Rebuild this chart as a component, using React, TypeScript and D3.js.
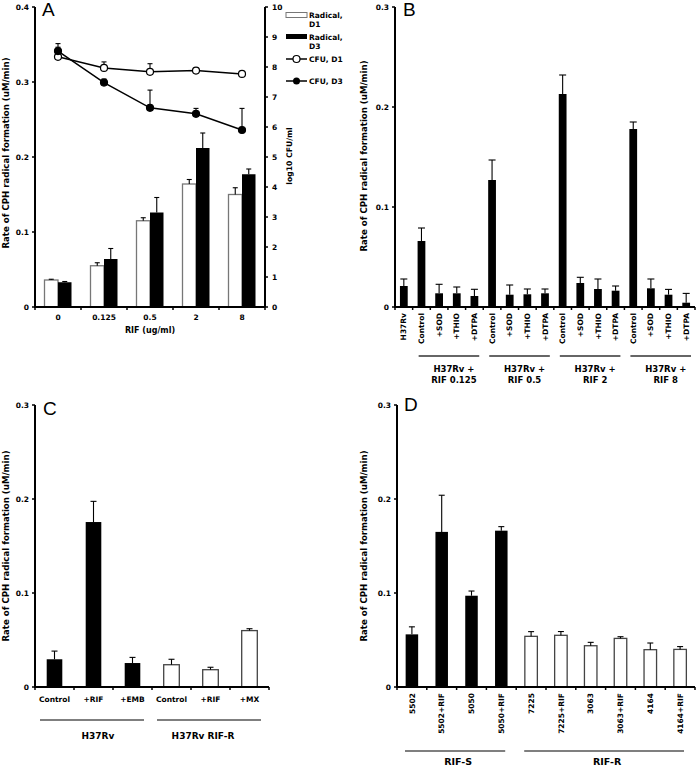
import React from 'react';
import * as d3 from 'd3';

// ---------- Panel A data ----------
const rifDoses = ['0', '0.125', '0.5', '2', '8'];
const radicalD1 = [0.036, 0.055, 0.115, 0.164, 0.15];
const radicalD1Err = [0.001, 0.004, 0.004, 0.006, 0.009];
const radicalD3 = [0.033, 0.064, 0.126, 0.212, 0.177];
const radicalD3Err = [0.001, 0.014, 0.02, 0.02, 0.007];
const cfuD1 = [8.34, 7.97, 7.84, 7.88, 7.77];
const cfuD1Err = [0.32, 0.2, 0.27, 0.08, 0.04];
const cfuD3 = [8.53, 7.48, 6.64, 6.44, 5.9];
const cfuD3Err = [0.25, 0.12, 0.59, 0.18, 0.72];
const leftTicksA = [0, 0.1, 0.2, 0.3, 0.4];
const rightTicksA = [0, 1, 2, 3, 4, 5, 6, 7, 8, 9, 10];
const legendA = ['Radical,|D1', 'Radical,|D3', 'CFU, D1', 'CFU, D3'];

// ---------- Panel B data ----------
const bCategories = ['H37Rv', 'Control', '+SOD', '+THIO', '+DTPA', 'Control', '+SOD', '+THIO', '+DTPA',
  'Control', '+SOD', '+THIO', '+DTPA', 'Control', '+SOD', '+THIO', '+DTPA'];
const bValues = [0.021, 0.066, 0.0137, 0.0137, 0.011, 0.127, 0.0123, 0.0127, 0.0137,
  0.213, 0.024, 0.018, 0.0163, 0.178, 0.0187, 0.0123, 0.0043];
const bErrors = [0.007, 0.013, 0.009, 0.0063, 0.0067, 0.02, 0.0097, 0.0053, 0.0043,
  0.019, 0.0057, 0.01, 0.0047, 0.007, 0.0093, 0.0053, 0.0093];
const bGroupLabels = ['H37Rv +|RIF 0.125', 'H37Rv +|RIF 0.5', 'H37Rv +|RIF 2', 'H37Rv +|RIF 8'];
const bGroupStart = [1, 5, 9, 13];
const bGroupEnd = [4, 8, 12, 16];
const yTicks03 = [0, 0.1, 0.2, 0.3];

// ---------- Panel C data ----------
const cCategories = ['Control', '+RIF', '+EMB', 'Control', '+RIF', '+MX'];
const cValues = [0.0295, 0.1755, 0.0255, 0.0237, 0.0184, 0.06];
const cErrors = [0.0087, 0.022, 0.006, 0.0058, 0.0026, 0.002];
const cStrain = ['S', 'S', 'S', 'R', 'R', 'R'];
const cGroupLabels = ['H37Rv', 'H37Rv RIF-R'];
const cGroupStart = [0, 3];
const cGroupEnd = [2, 5];

// ---------- Panel D data ----------
const dCategories = ['5502', '5502+RIF', '5050', '5050+RIF', '7225', '7225+RIF', '3063', '3063+RIF', '4164', '4164+RIF'];
const dValues = [0.056, 0.165, 0.0971, 0.1663, 0.0539, 0.055, 0.0439, 0.0517, 0.0397, 0.04];
const dErrors = [0.008, 0.039, 0.005, 0.0043, 0.005, 0.004, 0.0036, 0.0018, 0.0071, 0.003];
const dStrain = ['S', 'S', 'S', 'S', 'R', 'R', 'R', 'R', 'R', 'R'];
const dGroupLabels = ['RIF-S', 'RIF-R'];
const dGroupStart = [0, 4];
const dGroupEnd = [3, 9];

const FONT = '"DejaVu Sans", Verdana, sans-serif';
const LETTER_FONT = '"Liberation Sans", Arial, sans-serif';
const Y_LABEL = 'Rate of CPH radical formation (uM/min)';
const fmt = (v: number) => (v === 0 ? '0' : d3.format('.1f')(v));

function YAxisLeft({ x, scale, ticks }: { x: number; scale: d3.ScaleLinear<number, number>; ticks: number[] }) {
  const [r0, r1] = scale.range();
  return (
    <g>
      <line x1={x} x2={x} y1={r0} y2={r1} stroke="#000" strokeWidth={2} />
      {ticks.map((t) => (
        <g key={t}>
          <line x1={x - 3} x2={x} y1={scale(t)} y2={scale(t)} stroke="#000" strokeWidth={1.5} />
          <text x={x - 6} y={scale(t) + 2.5} textAnchor="end" fontSize={7.5} fontWeight="bold" fontFamily={FONT}>
            {fmt(t)}
          </text>
        </g>
      ))}
    </g>
  );
}

function XAxis({ y, xScale }: { y: number; xScale: d3.ScaleBand<string> }) {
  const [r0, r1] = xScale.range();
  const n = xScale.domain().length;
  const step = xScale.step();
  const bounds = d3.range(n + 1).map((i) => r0 + i * step);
  return (
    <g>
      <line x1={r0 - 1} x2={r1} y1={y} y2={y} stroke="#000" strokeWidth={2} />
      {bounds.map((b, i) => (
        <line key={i} x1={b} x2={b} y1={y} y2={y + 3} stroke="#000" strokeWidth={1.5} />
      ))}
    </g>
  );
}

function ErrUp({ cx, yTop, yCap, w = 6 }: { cx: number; yTop: number; yCap: number; w?: number }) {
  return (
    <g stroke="#000" strokeWidth={1.1}>
      <line x1={cx} x2={cx} y1={yTop} y2={yCap} />
      <line x1={cx - w / 2} x2={cx + w / 2} y1={yCap} y2={yCap} />
    </g>
  );
}

function RotLabel({ x, y, text, size = 8.6 }: { x: number; y: number; text: string; size?: number }) {
  return (
    <text transform={`translate(${x},${y}) rotate(-90)`} textAnchor="middle" fontSize={size} fontWeight="bold" fontFamily={FONT}>
      {text}
    </text>
  );
}

function PanelA() {
  const x = d3.scaleBand<string>().domain(rifDoses).range([35, 265]);
  const yL = d3.scaleLinear().domain([0, 0.4]).range([307, 7]);
  const yR = d3.scaleLinear().domain([0, 10]).range([307, 7]);
  const bw = 13.5;
  const cx = (d: string) => (x(d) as number) + x.bandwidth() / 2;
  const line = d3.line<number>().x((_, i) => cx(rifDoses[i])).y((v) => yR(v));
  return (
    <g>
      {rifDoses.map((d, i) => (
        <g key={d}>
          <rect x={cx(d) - bw} y={yL(radicalD1[i])} width={bw} height={yL(0) - yL(radicalD1[i])} fill="#fff" stroke="#777" strokeWidth={1.3} />
          <ErrUp cx={cx(d) - bw / 2} yTop={yL(radicalD1[i])} yCap={yL(radicalD1[i] + radicalD1Err[i])} w={5} />
          <rect x={cx(d)} y={yL(radicalD3[i])} width={bw} height={yL(0) - yL(radicalD3[i])} fill="#000" />
          <ErrUp cx={cx(d) + bw / 2} yTop={yL(radicalD3[i])} yCap={yL(radicalD3[i] + radicalD3Err[i])} w={5} />
        </g>
      ))}
      <path d={line(cfuD1) as string} fill="none" stroke="#000" strokeWidth={1.5} />
      <path d={line(cfuD3) as string} fill="none" stroke="#000" strokeWidth={1.5} />
      {rifDoses.map((d, i) => (
        <g key={'e' + d}>
          <ErrUp cx={cx(d)} yTop={yR(cfuD1[i])} yCap={yR(cfuD1[i] + cfuD1Err[i])} w={5} />
          <ErrUp cx={cx(d)} yTop={yR(cfuD3[i])} yCap={yR(cfuD3[i] + cfuD3Err[i])} w={5} />
        </g>
      ))}
      {rifDoses.map((d, i) => (
        <g key={'p' + d}>
          <circle cx={cx(d)} cy={yR(cfuD1[i])} r={3.5} fill="#fff" stroke="#000" strokeWidth={1.2} />
          <circle cx={cx(d)} cy={yR(cfuD3[i])} r={3.5} fill="#000" stroke="#000" strokeWidth={1.2} />
        </g>
      ))}
      <XAxis y={307} xScale={x} />
      <YAxisLeft x={35} scale={yL} ticks={leftTicksA} />
      <line x1={265} x2={265} y1={307} y2={7} stroke="#000" strokeWidth={2} />
      {rightTicksA.map((t) => (
        <g key={t}>
          <line x1={265} x2={268} y1={yR(t)} y2={yR(t)} stroke="#000" strokeWidth={1.5} />
          <text x={272} y={yR(t) + 2.5} fontSize={7.5} fontWeight="bold" fontFamily={FONT}>{t}</text>
        </g>
      ))}
      {rifDoses.map((d) => (
        <text key={'t' + d} x={cx(d)} y={320} textAnchor="middle" fontSize={7.5} fontWeight="bold" fontFamily={FONT}>{d}</text>
      ))}
      <text x={150} y={333} textAnchor="middle" fontSize={8} fontWeight="bold" fontFamily={FONT}>RIF (ug/ml)</text>
      <RotLabel x={9} y={153} text={Y_LABEL} />
      <RotLabel x={292} y={156} text="log10 CFU/ml" size={7.7} />
      <text x={42} y={16} fontSize={19} fontFamily={LETTER_FONT}>A</text>
      <g fontSize={7.5} fontWeight="bold" fontFamily={FONT}>
        <rect x={286} y={12.5} width={21} height={5} fill="#fff" stroke="#777" strokeWidth={1} />
        <text x={309} y={18}>{legendA[0].split('|')[0]}</text>
        <text x={309} y={27}>{legendA[0].split('|')[1]}</text>
        <rect x={286} y={34} width={21} height={5} fill="#000" />
        <text x={309} y={40}>{legendA[1].split('|')[0]}</text>
        <text x={309} y={49}>{legendA[1].split('|')[1]}</text>
        <line x1={286} x2={307} y1={59} y2={59} stroke="#000" strokeWidth={1.5} />
        <circle cx={296.5} cy={59} r={3.5} fill="#fff" stroke="#000" strokeWidth={1.2} />
        <text x={309} y={62}>{legendA[2]}</text>
        <line x1={286} x2={307} y1={81} y2={81} stroke="#000" strokeWidth={1.5} />
        <circle cx={296.5} cy={81} r={3.5} fill="#000" />
        <text x={309} y={84}>{legendA[3]}</text>
      </g>
    </g>
  );
}

function PanelB() {
  const idx = bCategories.map((_, i) => String(i));
  const x = d3.scaleBand<string>().domain(idx).range([395, 695]);
  const y = d3.scaleLinear().domain([0, 0.3]).range([307, 7]);
  const bw = x.bandwidth() * 0.44;
  const cx = (i: number) => (x(String(i)) as number) + x.bandwidth() / 2;
  return (
    <g>
      {bValues.map((v, i) => (
        <g key={i}>
          <rect x={cx(i) - bw / 2} y={y(v)} width={bw} height={y(0) - y(v)} fill="#000" />
          <ErrUp cx={cx(i)} yTop={y(v)} yCap={y(v + bErrors[i])} w={7} />
        </g>
      ))}
      <XAxis y={307} xScale={x} />
      <YAxisLeft x={395} scale={y} ticks={yTicks03} />
      {bCategories.map((c, i) => (
        <text key={'l' + i} transform={`translate(${cx(i) + 2.6},${313}) rotate(-90)`} textAnchor="end" fontSize={7.5} fontWeight="bold" fontFamily={FONT}>{c}</text>
      ))}
      {bGroupLabels.map((g, k) => {
        const x1 = (x(String(bGroupStart[k])) as number) + 6;
        const x2 = (x(String(bGroupEnd[k])) as number) + x.bandwidth() - 4;
        const mid = (x1 + x2) / 2 + 5;
        const [l1, l2] = g.split('|');
        return (
          <g key={g}>
            <line x1={x1} x2={x2} y1={356} y2={356} stroke="#333" strokeWidth={1.3} />
            <text x={mid} y={372} textAnchor="middle" fontSize={8.5} fontWeight="bold" fontFamily={FONT}>{l1}</text>
            <text x={mid} y={383} textAnchor="middle" fontSize={8.5} fontWeight="bold" fontFamily={FONT}>{l2}</text>
          </g>
        );
      })}
      <RotLabel x={367} y={156} text={Y_LABEL} />
      <text x={403} y={16} fontSize={19} fontFamily={LETTER_FONT}>B</text>
    </g>
  );
}

function PanelC() {
  const idx = cCategories.map((_, i) => String(i));
  const x = d3.scaleBand<string>().domain(idx).range([35, 269]);
  const y = d3.scaleLinear().domain([0, 0.3]).range([687, 405]);
  const bw = x.bandwidth() * 0.4;
  const cx = (i: number) => (x(String(i)) as number) + x.bandwidth() / 2;
  return (
    <g>
      {cValues.map((v, i) => (
        <g key={i}>
          <rect x={cx(i) - bw / 2} y={y(v)} width={bw} height={y(0) - y(v)}
            fill={cStrain[i] === 'S' ? '#000' : '#fff'} stroke={cStrain[i] === 'S' ? 'none' : '#444'} strokeWidth={1.3} />
          <ErrUp cx={cx(i)} yTop={y(v)} yCap={y(v + cErrors[i])} w={6} />
        </g>
      ))}
      <XAxis y={687} xScale={x} />
      <YAxisLeft x={35} scale={y} ticks={yTicks03} />
      {cCategories.map((c, i) => (
        <text key={'l' + i} x={cx(i)} y={702} textAnchor="middle" fontSize={7.5} fontWeight="bold" fontFamily={FONT}>{c}</text>
      ))}
      {cGroupLabels.map((g, k) => {
        const x1 = (x(String(cGroupStart[k])) as number) + 5;
        const x2 = (x(String(cGroupEnd[k])) as number) + x.bandwidth() - 8;
        const mid = (x1 + x2) / 2 + (k === 0 ? 6 : -6);
        return (
          <g key={g}>
            <line x1={x1} x2={x2} y1={720} y2={720} stroke="#555" strokeWidth={1.5} />
            <text x={mid} y={739} textAnchor="middle" fontSize={9} fontWeight="bold" fontFamily={FONT}>{g}</text>
          </g>
        );
      })}
      <RotLabel x={9} y={546} text={Y_LABEL} />
      <text x={43} y={415} fontSize={19} fontFamily={LETTER_FONT}>C</text>
    </g>
  );
}

function PanelD() {
  const x = d3.scaleBand<string>().domain(dCategories).range([397, 695]);
  const y = d3.scaleLinear().domain([0, 0.3]).range([687, 405]);
  const bw = x.bandwidth() * 0.42;
  const cx = (c: string) => (x(c) as number) + x.bandwidth() / 2;
  return (
    <g>
      {dCategories.map((c, i) => (
        <g key={c}>
          <rect x={cx(c) - bw / 2} y={y(dValues[i])} width={bw} height={y(0) - y(dValues[i])}
            fill={dStrain[i] === 'S' ? '#000' : '#fff'} stroke={dStrain[i] === 'S' ? 'none' : '#444'} strokeWidth={1.3} />
          <ErrUp cx={cx(c)} yTop={y(dValues[i])} yCap={y(dValues[i] + dErrors[i])} w={6} />
        </g>
      ))}
      <XAxis y={687} xScale={x} />
      <YAxisLeft x={397} scale={y} ticks={yTicks03} />
      {dCategories.map((c) => (
        <text key={'l' + c} transform={`translate(${cx(c) + 2.6},${693}) rotate(-90)`} textAnchor="end" fontSize={7.5} fontWeight="bold" fontFamily={FONT}>{c}</text>
      ))}
      {dGroupLabels.map((g, k) => {
        const x1 = (x(dCategories[dGroupStart[k]]) as number) + 8;
        const x2 = (x(dCategories[dGroupEnd[k]]) as number) + x.bandwidth() - 11;
        const mid = (x1 + x2) / 2 + 3;
        return (
          <g key={g}>
            <line x1={x1} x2={x2} y1={751} y2={751} stroke="#555" strokeWidth={1.3} />
            <text x={mid} y={765} textAnchor="middle" fontSize={9.5} fontWeight="bold" fontFamily={FONT}>{g}</text>
          </g>
        );
      })}
      <RotLabel x={367} y={546} text={Y_LABEL} />
      <text x={404} y={411} fontSize={19} fontFamily={LETTER_FONT}>D</text>
    </g>
  );
}

export default function App() {
  return (
    <svg width={696} height={766} viewBox="0 0 696 766" style={{ position: 'absolute', left: 0, top: 0, background: '#fff' }}>
      <rect x={0} y={0} width={696} height={766} fill="#fff" />
      <PanelA />
      <PanelB />
      <PanelC />
      <PanelD />
    </svg>
  );
}
